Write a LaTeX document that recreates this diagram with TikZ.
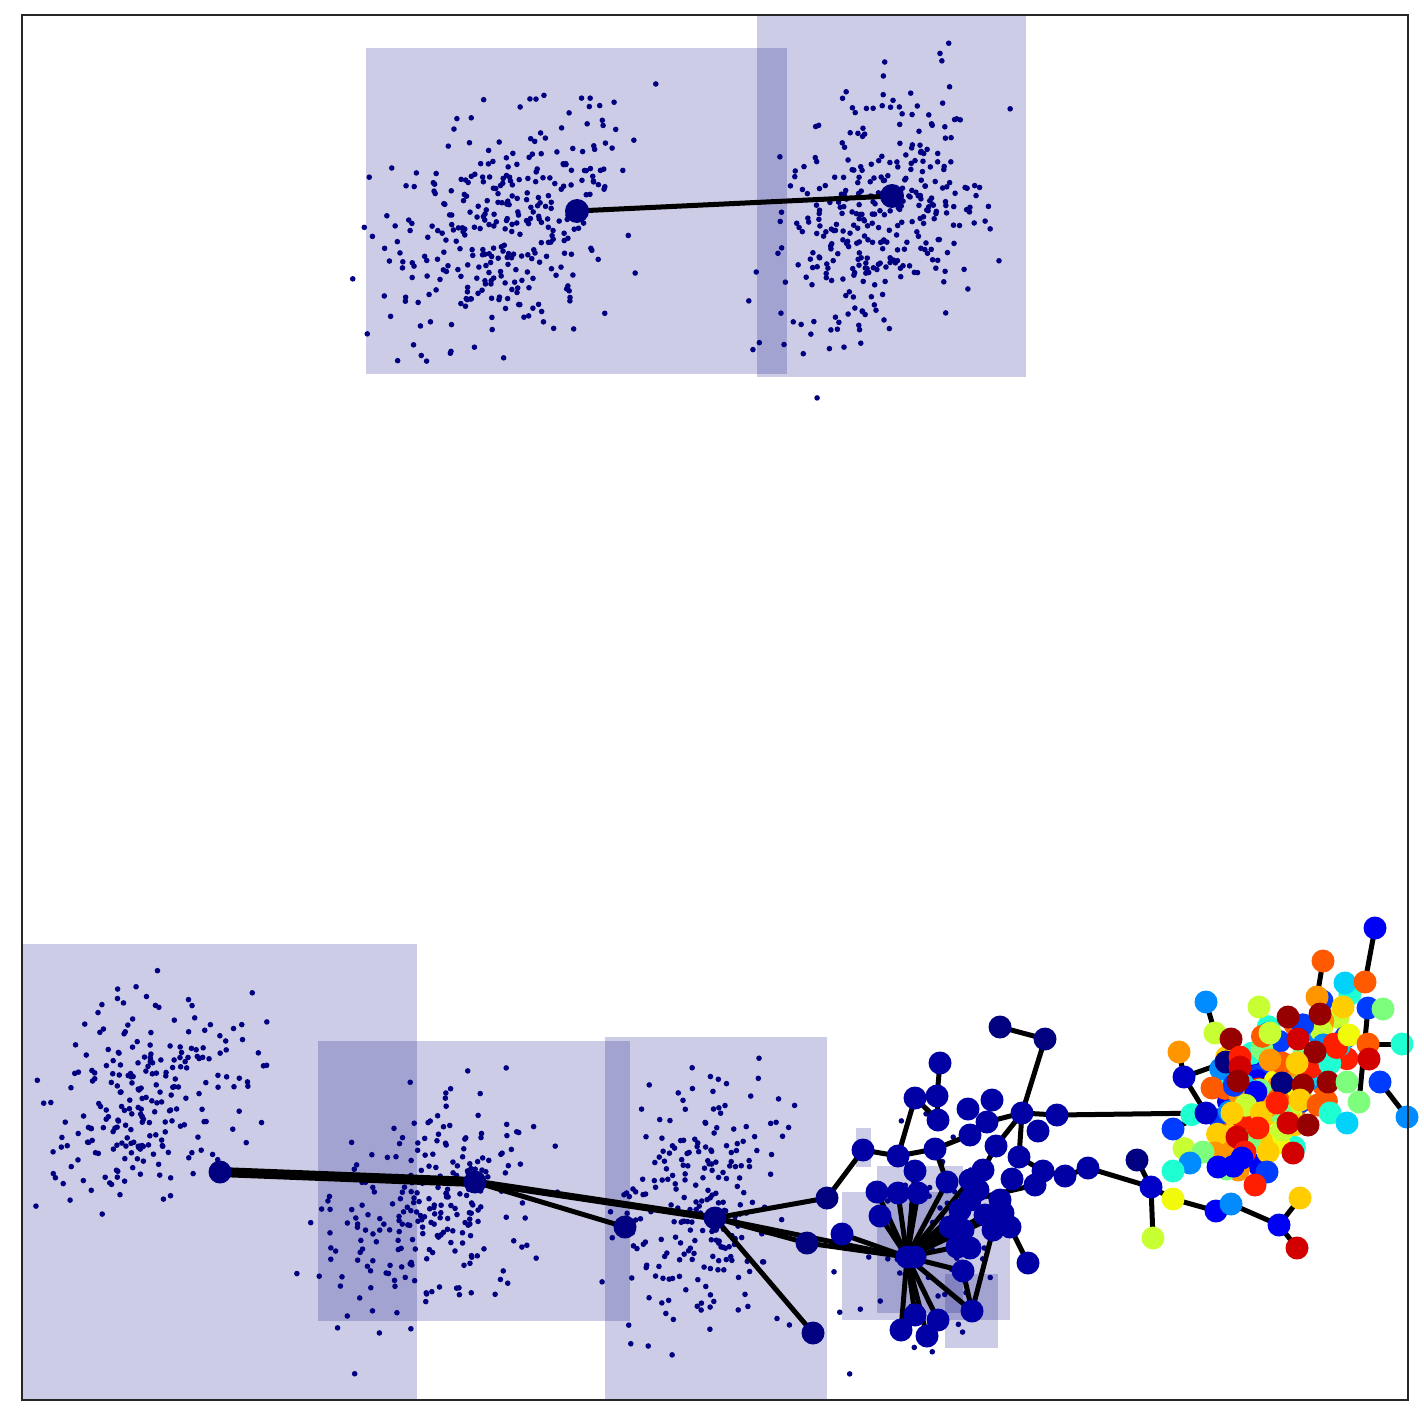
\documentclass[tikz,border=0pt]{standalone}
\usepackage{tikz}
\definecolor{nav}{RGB}{0,0,128}
\definecolor{mb}{RGB}{0,0,165}
\definecolor{j0}{RGB}{0,0,128}
\definecolor{j1}{RGB}{0,0,200}
\definecolor{j2}{RGB}{0,0,245}
\definecolor{j3}{RGB}{0,60,255}
\definecolor{j4}{RGB}{0,140,255}
\definecolor{j5}{RGB}{0,210,250}
\definecolor{j6}{RGB}{30,255,210}
\definecolor{j7}{RGB}{125,255,125}
\definecolor{j8}{RGB}{200,255,50}
\definecolor{j9}{RGB}{240,250,10}
\definecolor{j10}{RGB}{255,205,0}
\definecolor{j11}{RGB}{255,150,0}
\definecolor{j12}{RGB}{255,90,0}
\definecolor{j13}{RGB}{255,30,0}
\definecolor{j14}{RGB}{210,0,0}
\definecolor{j15}{RGB}{150,0,0}
\tikzset{
  rectbox/.style={fill=nav, fill opacity=0.2},
  edge/.style={line width=5pt, black},
  smalldot/.style={fill=nav},
}
\newcommand{\cluster}[8]{% seed, n, cx, cy, sx, sy, rho, rho2
  \pgfmathsetseed{#1}
  \foreach \i in {1,...,#2}{
    \pgfmathsetmacro\uu{rand+rand+rand}
    \pgfmathsetmacro\vv{rand+rand+rand}
    \fill[smalldot] ({#3+#5*\uu},{#4-#6*(#7*\uu+#8*\vv)}) circle (2.8);
  }
}
\begin{document}
\begin{tikzpicture}[x=1pt,y=-1pt]
\useasboundingbox (0,0) rectangle (1423,1423);
\begin{scope}
\clip (22,15) rectangle (1408,1400);
% rectangles
\fill[rectbox] (366,48) rectangle (787,374);
\fill[rectbox] (757,0) rectangle (1026,377);
\fill[rectbox] (22,944) rectangle (417,1420);
\fill[rectbox] (318,1041) rectangle (630,1321);
\fill[rectbox] (605,1037) rectangle (827,1420);
\fill[rectbox] (856,1128) rectangle (871,1167);
\fill[rectbox] (842,1192) rectangle (1010,1320);
\fill[rectbox] (877,1166) rectangle (963,1313);
\fill[rectbox] (945,1274) rectangle (998,1348);
% small dots
\cluster{11}{330}{500}{222}{58}{58}{0.35}{0.94}
\cluster{23}{340}{878}{218}{50}{62}{0.35}{0.94}
\cluster{37}{240}{150}{1095}{48}{52}{0.3}{0.95}
\cluster{41}{250}{430}{1210}{52}{57}{0.3}{0.95}
\cluster{53}{230}{700}{1205}{42}{57}{0.25}{0.97}
\cluster{67}{60}{935}{1240}{45}{50}{0.2}{0.98}
\end{scope}
% named node positions
\foreach \n/\x/\y in {t1/577/211,t2/892/196,b1/220/1172,b2/475/1182,b3/715/1218,
 m1/1000/1027,m2/1045/1039,m3/940/1063,m4/915/1098,m5/937/1096,m6/968/1109,m7/992/1100,
 m8/1022/1113,m9/1057/1115,m10/1038/1131,m11/938/1120,m12/987/1122,m13/863/1150,
 m14/898/1156,m15/935/1149,m16/970/1135,m17/996/1146,m18/1019/1157,m19/915/1171,
 m20/947/1182,m21/983/1170,m22/1043/1171,m23/1065/1176,m24/1088/1168,m25/1012/1179,
 m26/1035/1185,m27/877/1192,m28/898/1193,m29/918/1193,m30/970/1180,m31/880/1216,
 m32/842/1234,m33/970/1200,m34/1003/1213,m35/1010/1227,m36/950/1227,m37/963/1230,
 m38/993/1230,m39/957/1247,m40/970/1248,hub/907/1257,m42/915/1257,m43/963/1271,
 m44/1028/1263,m45/972/1311,m46/915/1315,m47/938/1320,m48/901/1330,m49/927/1336,
 m50/827/1198,m51/807/1243,m52/813/1333,m53/625/1227,
 m54/985/1215,m55/978/1190,m56/1000/1200,m57/960/1210}
  {\coordinate (\n) at (\x,\y);}
\foreach \n/\x/\y in {r1/1375/928,r2/1323/961,r3/1345/983,r4/1365/982,
 r5/1206/1002,r6/1259/1007,r7/1368/1008,r8/1383/1009,r9/1317/997,
 r10/1343/1007,r11/1288/1017,r12/1320/1014,r13/1215/1033,r14/1231/1039,
 r15/1179/1052,r16/1270/1033,r17/1298/1039,r18/1349/1035,r19/1402/1044,
 r20/1368/1044,r21/1315/1052,r22/1369/1059,r23/1184/1077,r24/1226/1062,
 r25/1240/1057,r26/1240/1067,r27/1238/1081,r28/1212/1088,r29/1282/1063,
 r30/1270/1060,r31/1297/1063,r32/1282/1083,r33/1303/1085,r34/1328/1082,
 r35/1347/1082,r36/1380/1082,r37/1206/1113,r38/1173/1129,r39/1407/1117,
 r40/1232/1113,r41/1277/1103,r42/1300/1100,r43/1318/1105,r44/1330/1113,
 r45/1347/1123,r46/1359/1102,r47/1258/1128,r48/1288/1123,r49/1308/1125,
 r50/1237/1137,r51/1245/1152,r52/1268/1152,r53/1293/1153,r54/1215/1153,
 r55/1203/1152,r56/1190/1163,r57/1173/1171,r58/1218/1167,r59/1242/1158,
 r60/1267/1172,r61/1255/1185,r62/1137/1160,r63/1151/1187,r64/1173/1199,
 r65/1153/1238,r66/1216/1211,r67/1231/1204,r68/1279/1225,r69/1300/1198,
 r70/1297/1248}
  {\coordinate (\n) at (\x,\y);}
% edges
\draw[edge, line width=10pt] (b1) -- (b2);
\draw[edge, line width=7pt] (b2) -- (b3);
\foreach \a/\b in {t1/t2,b2/m53,b3/m50,b3/m51,b3/m52,b3/hub,m51/hub,m32/hub,m50/m13,
 m1/m2,m2/m8,m8/m9,m8/m12,m8/m18,m8/m17,m3/m5,m5/m11,m4/m14,m4/m11,m13/m14,m14/m15,
 m15/m16,m14/m19,m20/m15,m18/m22,m22/m23,m23/m24,m24/r63,m9/r37,m33/m26,m16/m12,
 hub/m27,hub/m28,hub/m29,hub/m19,hub/m20,hub/m31,hub/m36,hub/m37,hub/m33,hub/m39,
 hub/m43,hub/m45,hub/m46,hub/m47,hub/m48,hub/m49,hub/m30,hub/m34,hub/m57,hub/m54,
 m45/m43,m45/m38,m44/m35,m21/m17,m55/m21,
 r1/r4,r2/r9,r5/r13,r6/r16,r15/r23,r23/r24,r23/r37,r37/r38,r7/r46,r20/r19,r36/r39,
 r62/r63,r63/r65,r63/r64,r64/r66,r66/r67,r67/r68,r68/r69,r68/r70,r24/r32,r11/r21}
  {\draw[edge] (\a) -- (\b);}
% big nodes
\fill[nav] (t1) circle (12);
\fill[nav] (t2) circle (12);
\foreach \n in {b1,b2,b3,m50,m51,m52,m53,m1,m2}{\fill[nav] (\n) circle (11.5);}
\foreach \n in {m3,m4,m5,m6,m7,m8,m9,m10,m11,m12,m13,m14,m15,m16,m17,m18,m19,m20,m21,
 m22,m23,m24,m25,m26,m27,m28,m29,m30,m31,m32,m33,m34,m35,m36,m37,m38,m39,m40,hub,m42,
 m43,m44,m45,m46,m47,m48,m49,m54,m55,m56,m57}{\fill[mb] (\n) circle (11.5);}
% background dense coloured nodes
\pgfmathsetseed{97}
\foreach \i in {1,...,110}{
  \pgfmathsetmacro\uu{rand+rand+rand}
  \pgfmathsetmacro\vv{rand+rand+rand}
  \pgfmathtruncatemacro\cc{random(2,13)}
  \fill[j\cc] ({1272+36*\uu},{1095-36*(0.5*\uu+0.87*\vv)}) circle (11.5);
}
\foreach \n/\c in {r1/j2,r2/j12,r3/j5,r4/j12,r5/j4,r6/j8,r7/j3,r8/j7,r9/j11,r10/j10,
 r11/j15,r12/j15,r13/j8,r14/j15,r15/j11,r16/j8,r17/j14,r18/j9,r19/j6,r20/j12,r21/j15,
 r22/j14,r23/j1,r24/j0,r25/j13,r26/j14,r27/j15,r28/j12,r29/j12,r30/j11,r31/j10,r32/j0,
 r33/j15,r34/j15,r35/j7,r36/j3,r37/j1,r38/j3,r39/j4,r40/j10,r41/j13,r42/j10,r43/j12,
 r44/j6,r45/j5,r46/j7,r47/j13,r48/j14,r49/j15,r50/j14,r51/j13,r52/j10,r53/j14,r54/j11,
 r55/j7,r56/j4,r57/j6,r58/j2,r59/j2,r60/j3,r61/j13,r62/j0,r63/j1,r64/j9,r65/j8,r66/j2,
 r67/j4,r68/j2,r69/j10,r70/j14}
  {\fill[\c] (\n) circle (11.5);}
% frame
\draw[line width=1.5pt, black!85] (22,15) rectangle (1408,1400);
\end{tikzpicture}
\end{document}
